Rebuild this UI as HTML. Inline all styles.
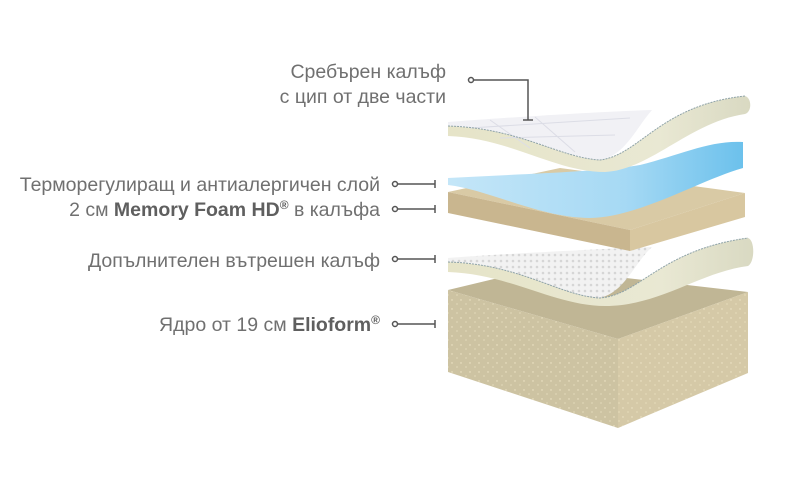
<!DOCTYPE html>
<html><head><meta charset="utf-8"><style>
html,body{margin:0;padding:0;background:#fff;width:800px;height:480px;overflow:hidden}
svg{display:block}
text{font-family:"Liberation Sans","DejaVu Sans",sans-serif;font-size:19.5px;fill:#707070}
.b{font-weight:bold;fill:#5f5f5f}
</style></head><body>
<svg width="800" height="480" viewBox="0 0 800 480">
<defs>
<linearGradient id="blue" x1="0" x2="1" y1="0" y2="0"><stop offset="0" stop-color="#c4e6f8"/><stop offset="0.6" stop-color="#a6d9f4"/><stop offset="1" stop-color="#6cc1ec"/></linearGradient>
<linearGradient id="cream" x1="0" x2="1" y1="0" y2="0"><stop offset="0" stop-color="#e6e4c8"/><stop offset="0.7" stop-color="#e9e8d3"/><stop offset="1" stop-color="#d9d9c2"/></linearGradient>
<pattern id="dots" width="9" height="9" patternUnits="userSpaceOnUse"><circle cx="2" cy="3" r="0.7" fill="#efe6c8"/><circle cx="7" cy="7" r="0.6" fill="#efe6c8"/></pattern>
<pattern id="quilt" width="6" height="6" patternUnits="userSpaceOnUse"><rect width="6" height="6" fill="#f2f2f2"/><circle cx="3" cy="3" r="1.3" fill="#d6d6d6"/></pattern>
</defs>
<!-- core block -->
<polygon points="448,290 540,268 748,292 618,339" fill="#c0b695"/>
<polygon points="448,290 618,339 618,428 448,372" fill="#cdc3a2"/>
<polygon points="618,339 748,292 748,373 618,428" fill="#d5c9a7"/>
<polygon points="448,290 618,339 618,428 448,372" fill="url(#dots)"/>
<polygon points="618,339 748,292 748,373 618,428" fill="url(#dots)"/>
<!-- second cover -->
<path d="M448,262 C520,264 560,296 600,298 C640,295 660,250 748,238 C755,240 755,262 748,266 C700,272 660,306 605,306 C555,306 510,274 448,272 Z" fill="url(#cream)"/>
<path d="M448,262 C520,264 560,296 600,298 C625,292 635,262 652,247 C600,249 500,254 448,258 Z" fill="url(#quilt)"/>
<path d="M448,262 C520,264 560,296 600,298 C640,295 660,250 748,238" fill="none" stroke="#8fa3a8" stroke-width="1" stroke-dasharray="2,1"/>
<!-- tan slab -->
<polygon points="448,192 560,168 745,193 630,230" fill="#d9caa5"/>
<polygon points="448,192 630,230 630,251 448,213" fill="#c9b68f"/>
<polygon points="630,230 745,193 745,217 630,251" fill="#d8c7a0"/>
<!-- blue layer -->
<path d="M448,178 C520,174 600,172 640,165 C680,155 710,140 743,142 L743,168 C700,180 640,217 590,218 C540,218 490,190 448,185 Z" fill="url(#blue)"/>
<!-- top cover -->
<path d="M448,126 C520,128 560,158 600,160 C640,155 660,105 745,96 C752,98 752,112 745,114 C690,122 650,170 605,172 C555,172 510,138 448,136 Z" fill="url(#cream)"/>
<path d="M448,126 C520,128 560,158 600,160 C625,156 636,128 652,110 C590,112 500,118 448,122 Z" fill="#f1f1f5"/>
<g stroke="#dcdde6" stroke-width="1"><line x1="490" y1="120" x2="530" y2="148"/><line x1="535" y1="117" x2="575" y2="152"/><line x1="470" y1="128" x2="630" y2="118"/><line x1="500" y1="138" x2="615" y2="135"/></g>
<path d="M448,126 C520,128 560,158 600,160 C640,155 660,105 745,96" fill="none" stroke="#8fa3a8" stroke-width="1" stroke-dasharray="2,1"/>
<!-- connectors -->
<g stroke="#555" stroke-width="1.5" fill="#fff">
<circle cx="471" cy="80" r="2.5"/><polyline points="474,80 528,80 528,120" fill="none"/><line x1="523" y1="120" x2="533" y2="120"/>
<circle cx="395" cy="184" r="2.5"/><line x1="398" y1="184" x2="435" y2="184"/><line x1="435" y1="180" x2="435" y2="188"/>
<circle cx="395" cy="209" r="2.5"/><line x1="398" y1="209" x2="435" y2="209"/><line x1="435" y1="205" x2="435" y2="213"/>
<circle cx="395" cy="259" r="2.5"/><line x1="398" y1="259" x2="435" y2="259"/><line x1="435" y1="255" x2="435" y2="263"/>
<circle cx="395" cy="324" r="2.5"/><line x1="398" y1="324" x2="435" y2="324"/><line x1="435" y1="320" x2="435" y2="328"/>
</g>
<!-- labels -->
<text x="446" y="78" text-anchor="end">Сребърен калъф</text>
<text x="446" y="103" text-anchor="end">с цип от две части</text>
<text x="380" y="191" text-anchor="end">Терморегулиращ и антиалергичен слой</text>
<text x="380" y="216" text-anchor="end">2 см <tspan class="b">Memory Foam HD</tspan><tspan class="b" font-size="12" dy="-7">®</tspan><tspan dy="7"> в калъфа</tspan></text>
<text x="380" y="267" text-anchor="end">Допълнителен вътрешен калъф</text>
<text x="380" y="331" text-anchor="end">Ядро от 19 см <tspan class="b">Elioform</tspan><tspan class="b" font-size="12" dy="-7">®</tspan></text>
</svg>
</body></html>
